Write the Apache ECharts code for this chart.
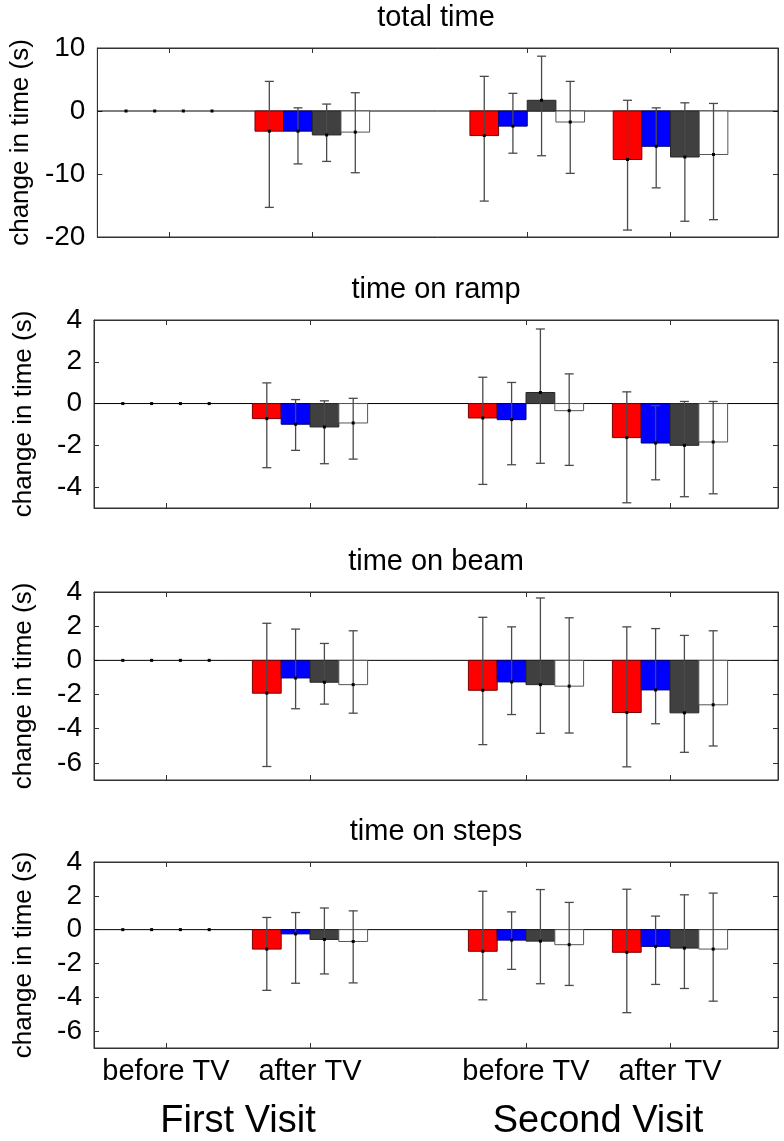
<!DOCTYPE html>
<html><head><meta charset="utf-8">
<script src="https://cdn.jsdelivr.net/npm/echarts@6/dist/echarts.min.js"></script>
<style>html,body{margin:0;padding:0;background:#fff}#c{width:784px;height:1141px}</style>
</head><body><div id="c"></div><script>
// ---------------- data ----------------
const panelTitles = ['total time', 'time on ramp', 'time on beam', 'time on steps'];
const groupLabels = ['before TV', 'after TV', 'before TV', 'after TV'];
const visitLabels = ['First Visit', 'Second Visit'];
const seriesNames = ['red', 'blue', 'dark grey', 'white'];
const yAxisTitle = 'change in time (s)';

const yTicksTotal = [-20, -10, 0, 10];
const yTicksRamp = [-4, -2, 0, 2, 4];
const yTicksBeam = [-6, -4, -2, 0, 2, 4];
const yTicksSteps = [-6, -4, -2, 0, 2, 4];

// each entry per group: [mean, upper error end, lower error end]
const totalRed   = [[0, 0, 0], [-3.2, 4.7, -15.3], [-3.9, 5.5, -14.3], [-7.7, 1.7, -18.9]];
const totalBlue  = [[0, 0, 0], [-3.2, 0.5, -8.4], [-2.4, 2.8, -6.7], [-5.6, 0.5, -12.2]];
const totalDark  = [[0, 0, 0], [-3.8, 1.1, -8.0], [1.7, 8.7, -7.1], [-7.3, 1.3, -17.5]];
const totalWhite = [[0, 0, 0], [-3.35, 2.9, -9.8], [-1.75, 4.7, -9.9], [-6.9, 1.2, -17.25]];

const rampRed   = [[0, 0, 0], [-0.72, 0.99, -3.07], [-0.69, 1.26, -3.87], [-1.63, 0.56, -4.75]];
const rampBlue  = [[0, 0, 0], [-0.99, 0.19, -2.24], [-0.77, 1.01, -2.93], [-1.89, -0.1, -3.65]];
const rampDark  = [[0, 0, 0], [-1.12, 0.13, -2.88], [0.53, 3.57, -2.86], [-2.0, 0.1, -4.46]];
const rampWhite = [[0, 0, 0], [-0.93, 0.25, -2.66], [-0.34, 1.42, -2.96], [-1.84, 0.1, -4.32]];

const beamRed   = [[0, 0, 0], [-1.92, 2.17, -6.21], [-1.75, 2.52, -4.93], [-3.05, 1.96, -6.23]];
const beamBlue  = [[0, 0, 0], [-1.03, 1.83, -2.83], [-1.26, 1.96, -3.17], [-1.73, 1.86, -3.71]];
const beamDark  = [[0, 0, 0], [-1.28, 0.99, -2.56], [-1.42, 3.65, -4.27], [-3.07, 1.46, -5.38]];
const beamWhite = [[0, 0, 0], [-1.42, 1.73, -3.09], [-1.51, 2.49, -4.25], [-2.6, 1.73, -5.01]];

const stepsRed   = [[0, 0, 0], [-1.15, 0.72, -3.59], [-1.28, 2.27, -4.15], [-1.34, 2.39, -4.91]];
const stepsBlue  = [[0, 0, 0], [-0.25, 1.01, -3.17], [-0.62, 1.05, -2.35], [-0.99, 0.8, -3.24]];
const stepsDark  = [[0, 0, 0], [-0.58, 1.28, -2.62], [-0.68, 2.37, -3.2], [-1.09, 2.06, -3.48]];
const stepsWhite = [[0, 0, 0], [-0.7, 1.11, -3.15], [-0.89, 1.61, -3.3], [-1.15, 2.16, -4.23]];

// ---------------- layout / style ----------------
const groupPos = [1, 2, 3.5, 4.5];
const visitPos = [1.5, 4];
const xMin = 0.5, xMax = 5.25;
const barOffsets = [-0.3, -0.1, 0.1, 0.3];
const barW = 0.2;
const fills = ['#ff0000', '#0000ff', '#404040', '#ffffff'];
const strokes = ['#7a0000', '#00006e', '#262626', '#555555'];
const FONT = 'Liberation Sans, Arial, Helvetica, sans-serif';

const panels = [
  { data: [totalRed, totalBlue, totalDark, totalWhite], min: -20, max: 10, ticks: yTicksTotal, top: 48, height: 189 },
  { data: [rampRed, rampBlue, rampDark, rampWhite], min: -5, max: 4, ticks: yTicksRamp, top: 320, height: 188 },
  { data: [beamRed, beamBlue, beamDark, beamWhite], min: -7, max: 4, ticks: yTicksBeam, top: 592, height: 188 },
  { data: [stepsRed, stepsBlue, stepsDark, stepsWhite], min: -7, max: 4, ticks: yTicksSteps, top: 862, height: 188 }
];

const grid = [], xAxis = [], yAxis = [], series = [], graphic = [];
const plotLeft = 94, plotRight = 6, plotCenter = 94 + (784 - 94 - 6) / 2;

panels.forEach((p, pi) => {
  grid.push({ left: plotLeft, right: plotRight, top: p.top, height: p.height, show: true,
    borderColor: '#333', borderWidth: 1, backgroundColor: '#fff', containLabel: false });
  const isLast = pi === panels.length - 1;
  const xb = xAxis.length;
  xAxis.push({
    type: 'value', gridIndex: pi, min: xMin, max: xMax, position: 'bottom',
    axisLine: { show: true, onZero: false, lineStyle: { color: '#333', width: 1 } },
    axisTick: { show: true, inside: true, length: 5, customValues: groupPos, lineStyle: { color: '#333' } },
    axisLabel: { show: isLast, customValues: groupPos, margin: 9, fontSize: 29, color: '#000', fontFamily: FONT,
      formatter: v => groupLabels[groupPos.indexOf(v)] || '' },
    splitLine: { show: false }
  });
  xAxis.push({
    type: 'value', gridIndex: pi, min: xMin, max: xMax, position: 'top',
    axisLine: { show: true, onZero: false, lineStyle: { color: '#333', width: 1 } },
    axisTick: { show: true, inside: true, length: 5, customValues: groupPos, lineStyle: { color: '#333' } },
    axisLabel: { show: false }, splitLine: { show: false }
  });
  if (isLast) {
    xAxis.push({
      type: 'value', gridIndex: pi, min: xMin, max: xMax, position: 'bottom', offset: 47,
      axisLine: { show: false }, axisTick: { show: false }, splitLine: { show: false },
      axisLabel: { show: true, customValues: visitPos, margin: 8, fontSize: 38, color: '#000', fontFamily: FONT,
        formatter: v => visitLabels[visitPos.indexOf(v)] || '' }
    });
  }
  const yl = yAxis.length;
  yAxis.push({
    type: 'value', gridIndex: pi, min: p.min, max: p.max, position: 'left',
    name: yAxisTitle, nameLocation: 'middle', nameGap: 57,
    nameTextStyle: { fontSize: 26, color: '#000', fontFamily: FONT },
    axisLine: { show: true, onZero: false, lineStyle: { color: '#333', width: 1 } },
    axisTick: { show: true, inside: true, length: 5, customValues: p.ticks, lineStyle: { color: '#333' } },
    axisLabel: { show: true, customValues: p.ticks, margin: 12, fontSize: 28, color: '#000', fontFamily: FONT },
    splitLine: { show: false }
  });
  yAxis.push({
    type: 'value', gridIndex: pi, min: p.min, max: p.max, position: 'right',
    axisLine: { show: true, onZero: false, lineStyle: { color: '#333', width: 1 } },
    axisTick: { show: true, inside: true, length: 5, customValues: p.ticks, lineStyle: { color: '#333' } },
    axisLabel: { show: false }, splitLine: { show: false }
  });
  // zero line
  series.push({
    type: 'line', xAxisIndex: xb, yAxisIndex: yl, data: [[xMin, 0], [xMax, 0]],
    symbol: 'none', silent: true, z: 1, lineStyle: { color: '#000', width: 1 }, animation: false
  });
  p.data.forEach((arr, si) => {
    series.push({
      type: 'custom', name: seriesNames[si], xAxisIndex: xb, yAxisIndex: yl, z: 2 + si, animation: false,
      data: arr.map((d, gi) => [gi, d[0], d[1], d[2]]),
      renderItem: (params, api) => {
        const gi = api.value(0), mean = api.value(1), hi = api.value(2), lo = api.value(3);
        const x = groupPos[gi] + barOffsets[si];
        const children = [];
        const a = api.coord([x - barW / 2, 0]);
        const b = api.coord([x + barW / 2, mean]);
        if (mean !== 0) {
          children.push({ type: 'rect',
            shape: { x: a[0], y: Math.min(a[1], b[1]), width: b[0] - a[0], height: Math.abs(b[1] - a[1]) },
            style: { fill: fills[si], stroke: strokes[si], lineWidth: 1 } });
        }
        const c = api.coord([x, mean]);
        if (hi !== lo) {
          const t = api.coord([x, hi]), btm = api.coord([x, lo]);
          const es = { stroke: '#4a4a4a', lineWidth: 1.3 };
          children.push({ type: 'line', shape: { x1: c[0], y1: t[1], x2: c[0], y2: btm[1] }, style: es });
          children.push({ type: 'line', shape: { x1: c[0] - 4.5, y1: t[1], x2: c[0] + 4.5, y2: t[1] }, style: es });
          children.push({ type: 'line', shape: { x1: c[0] - 4.5, y1: btm[1], x2: c[0] + 4.5, y2: btm[1] }, style: es });
        }
        children.push({ type: 'rect', shape: { x: c[0] - 1.5, y: c[1] - 1.5, width: 3, height: 3 }, style: { fill: '#000' } });
        return { type: 'group', children };
      }
    });
  });
  graphic.push({ type: 'text', x: plotCenter, y: p.top - 30,
    style: { text: panelTitles[pi], font: '29px ' + FONT, fill: '#000', textAlign: 'center', textVerticalAlign: 'middle' } });
});

const chart = echarts.init(document.getElementById('c'), null, { renderer: 'canvas' });
chart.setOption({ animation: false, backgroundColor: '#fff', grid, xAxis, yAxis, series, graphic });
</script></body></html>
